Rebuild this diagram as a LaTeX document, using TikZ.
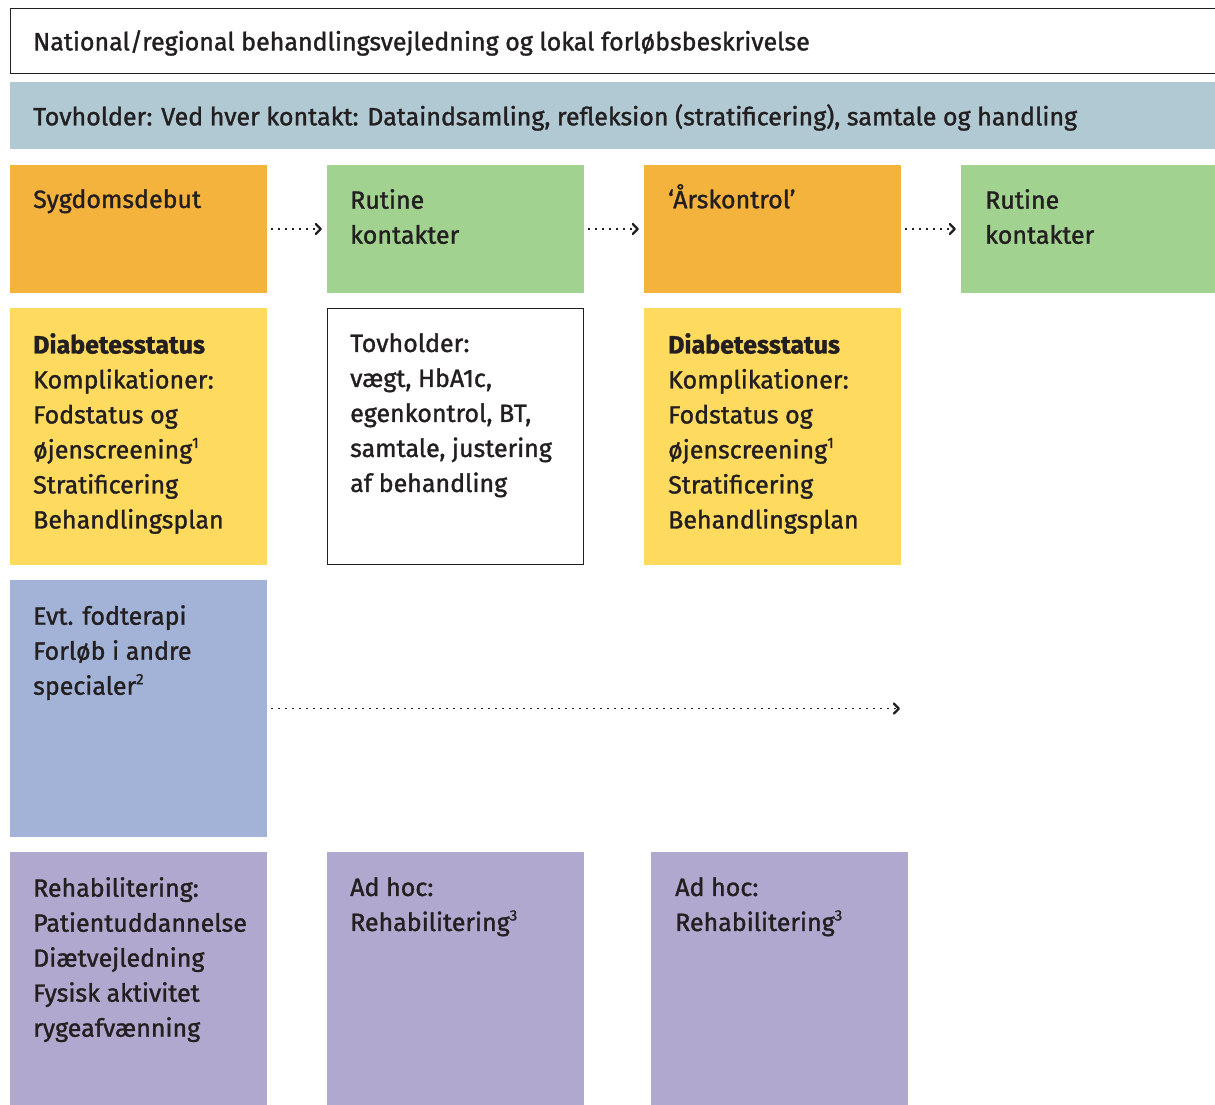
\documentclass[tikz,border=0pt]{standalone}
\usepackage{fontspec}
\setmainfont{Fira Sans}[FakeBold=1.3]
\usetikzlibrary{arrows.meta}
\definecolor{txt}{HTML}{231F20}
\definecolor{cOrange}{HTML}{F4B33D}
\definecolor{cGreen}{HTML}{A1D290}
\definecolor{cYellow}{HTML}{FEDB5F}
\definecolor{cBand}{HTML}{B0C9D3}
\definecolor{cBlue}{HTML}{A3B3D8}
\definecolor{cPurple}{HTML}{B0A8CE}
\newcommand{\supnum}[1]{\raisebox{0.42em}{\fontsize{15}{15}\selectfont #1}}
\begin{document}
\begin{tikzpicture}[x=1pt,y=-1pt,
  box/.style={anchor=north west, inner sep=0pt, outer sep=0pt, minimum width=257pt, draw=none},
  lbl/.style={anchor=north west, inner sep=0pt, align=left, text=txt, font=\fontsize{25}{35}\selectfont},
  arr/.style={line width=1.5pt, dash pattern=on 1.5pt off 5.5pt, draw=txt,
     -{Straight Barb[length=5pt,width=10pt,line width=2.3pt,round]}}
]
\clip (0,0) rectangle (1215,1104);
\useasboundingbox (0,0) rectangle (1215,1104);

% header boxes
\node[box, draw=txt, line width=1pt, minimum width=1220pt, minimum height=65pt, fill=white] (hdr) at (10,8) {};
\node[lbl] (hdrt) at (33,30) {National/regional behandlingsvejledning og lokal forløbsbeskrivelse};
\node[box, fill=cBand, minimum width=1210pt, minimum height=67pt] (band) at (10,82) {};
\node[lbl] (bandt) at (33,104) {Tovholder: Ved hver kontakt: Dataindsamling, refleksion (stratificering), samtale og handling};

% row 1
\node[box, fill=cOrange, minimum height=128pt] (sd) at (10,165) {};
\node[box, fill=cGreen, minimum height=128pt] (rk1) at (327,165) {};
\node[box, fill=cOrange, minimum height=128pt] (ak) at (644,165) {};
\node[box, fill=cGreen, minimum height=128pt, minimum width=260pt] (rk2) at (961,165) {};
\node[lbl] (sdt) at (33,189) {Sygdomsdebut};
\node[lbl] (rk1t) at (350,189) {Rutine\\kontakter};
\node[lbl] (akt) at (668,184) {‘Årskontrol’};
\node[lbl] (rk2t) at (985,189) {Rutine\\kontakter};

\draw[arr] ([xshift=4pt]sd.east) -- ([xshift=-5pt]rk1.west);
\draw[arr] ([xshift=4pt]rk1.east) -- ([xshift=-5pt]ak.west);
\draw[arr] ([xshift=4pt]ak.east) -- ([xshift=-5pt]rk2.west);

% row 2
\node[box, fill=cYellow, minimum height=257pt] (ds1) at (10,308) {};
\node[box, fill=white, draw=txt, line width=1pt, minimum width=256pt, minimum height=256pt] (tov) at (327.5,308.5) {};
\node[box, fill=cYellow, minimum height=257pt] (ds2) at (644,308) {};
\node[lbl] (ds1t) at (33,333) {\textbf{Diabetesstatus}\\Komplikationer:\\Fodstatus og\\øjenscreening\supnum{1}\\Stratificering\\Behandlingsplan};
\node[lbl] (tovt) at (350,333) {Tovholder:\\vægt, HbA1c,\\egenkontrol, BT,\\samtale, justering\\af behandling};
\node[lbl] (ds2t) at (668,333) {\textbf{Diabetesstatus}\\Komplikationer:\\Fodstatus og\\øjenscreening\supnum{1}\\Stratificering\\Behandlingsplan};

% row 3
\node[box, fill=cBlue, minimum height=257pt] (fod) at (10,580) {};
\node[lbl] (fodt) at (33,605) {Evt. fodterapi\\Forløb i andre\\specialer\supnum{2}};
\coordinate (fodend) at ([xshift=-1pt]ds2.east |- fod.east);
\draw[arr] ([xshift=4pt]fod.east) -- (fodend);

% row 4
\node[box, fill=cPurple, minimum height=260pt] (reh) at (10,852) {};
\node[box, fill=cPurple, minimum height=260pt] (ah1) at (327,852) {};
\node[box, fill=cPurple, minimum height=260pt] (ah2) at (651,852) {};
\node[lbl] (reht) at (33,877) {Rehabilitering:\\Patientuddannelse\\Diætvejledning\\Fysisk aktivitet\\rygeafvænning};
\node[lbl] (ah1t) at (350,877) {Ad hoc:\\Rehabilitering\supnum{3}};
\node[lbl] (ah2t) at (675,877) {Ad hoc:\\Rehabilitering\supnum{3}};
\end{tikzpicture}
\end{document}
